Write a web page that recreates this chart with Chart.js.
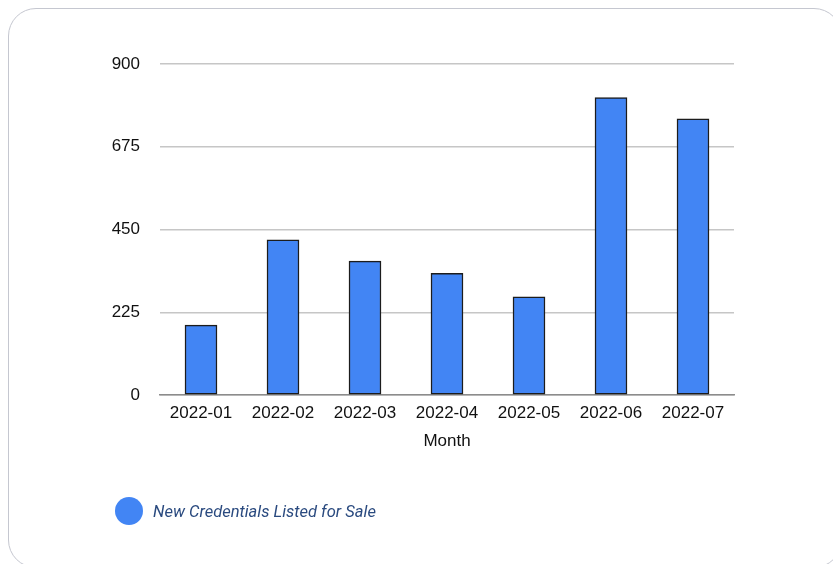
<!DOCTYPE html>
<html>
<head>
<meta charset="utf-8">
<script src="https://cdn.jsdelivr.net/npm/chart.js@4/dist/chart.umd.min.js"></script>
<style>
  html, body { margin:0; padding:0; background:#fff; }
  #wrap { position:relative; width:833px; height:564px; overflow:hidden; }
  #card { position:absolute; left:8px; top:8px; width:834px; height:560px;
          border:1.5px solid #c5c7d0; border-radius:28px; box-sizing:border-box; }
  #chart-box { position:absolute; left:0; top:0; width:833px; height:564px; }
  #legend { position:absolute; left:115px; top:497px; display:flex; align-items:center;
            font-family:Roboto, sans-serif; font-style:italic; font-size:16.5px; color:#2a4a7f; }
  #legend .dot { width:28px; height:28px; border-radius:50%; margin-right:10px; }
</style>
</head>
<body>
<div id="wrap">
  <div id="card"></div>
  <div id="chart-box"><canvas id="c" width="833" height="564"></canvas></div>
  <div id="legend"></div>
</div>
<script>
/* ---------- Data ---------- */
const months = ['2022-01','2022-02','2022-03','2022-04','2022-05','2022-06','2022-07'];
const credentials = [190, 422, 364, 331, 267, 809, 751];
const yTicks = [0, 225, 450, 675, 900];
const seriesName = 'New Credentials Listed for Sale';

const axisFont = { family:'"Liberation Sans", Arial, sans-serif', size:17 };

const chart = new Chart(document.getElementById('c'), {
  type: 'bar',
  data: {
    labels: months,
    datasets: [{
      label: seriesName,
      data: credentials,
      backgroundColor: '#4285f4',
      borderColor: '#1c1c1c',
      borderWidth: 1.5,
      borderSkipped: false,
      barThickness: 32
    }]
  },
  options: {
    responsive: false,
    animation: false,
    layout: { padding: { top: 64, right: 99, left: 0, bottom: 0 } },
    plugins: { legend: { display:false }, tooltip: { enabled:false } },
    scales: {
      x: {
        grid: { display:false },
        border: { color:'#8c8c8c', width:1.5 },
        ticks: { font: axisFont, color:'#111', padding: 0 },
        title: { display:true, text:'Month', font: axisFont, color:'#111', padding:{ top:4, bottom:112 } },
        afterFit: (s) => { s.height = 169; }
      },
      y: {
        min: 0, max: 900,
        afterBuildTicks: (s) => { s.ticks = yTicks.map(v => ({ value: v })); },
        grid: { color:'#c6c6c6', lineWidth:1.5, drawTicks:false },
        border: { display:false },
        ticks: { font: axisFont, color:'#111', padding: 20 },
        afterFit: (s) => { s.width = 160; }
      }
    }
  }
});

// legend built from the dataset
const ds = chart.data.datasets[0];
document.getElementById('legend').innerHTML =
  `<span class="dot" style="background:${ds.backgroundColor}"></span><span>${ds.label}</span>`;
</script>
</body>
</html>
